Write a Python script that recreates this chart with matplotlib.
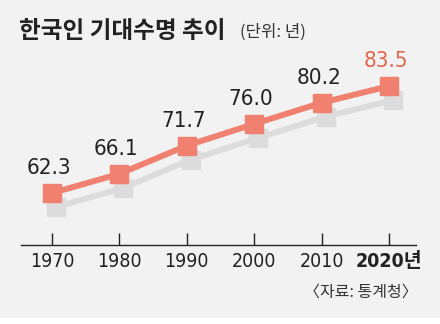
import matplotlib
matplotlib.use('Agg')
import matplotlib.pyplot as plt
import matplotlib.transforms as mtransforms
from matplotlib.patches import Rectangle

plt.rcParams['font.family'] = ['Noto Sans CJK KR', 'DejaVu Sans']

# 데이터
years = [1970, 1980, 1990, 2000, 2010, 2020]
life_exp = [62.3, 66.1, 71.7, 76.0, 80.2, 83.5]
tick_labels = ['1970', '1980', '1990', '2000', '2010', '2020년']
title = '한국인 기대수명 추이'
unit = '(단위: 년)'
source = '〈자료: 통계청〉'

line_color = '#f0806f'
hi_color = '#e0664c'
bg = '#f2f2f2'
num_font = ['DejaVu Sans', 'Noto Sans CJK KR']

fig = plt.figure(figsize=(4.4, 3.24), dpi=100, facecolor=bg)
fig.patches.append(Rectangle((0, 0), 1, 6 / 324, transform=fig.transFigure,
                             facecolor='white', edgecolor='none'))

ax = fig.add_axes([21 / 440, 1 - 245 / 324, 395 / 440, 225 / 324])
ax.set_facecolor('none')
ax.set_xlim(1965.4, 2024.0)
ax.set_ylim(52.0, 96.6)

# 그림자
shadow_tr = mtransforms.offset_copy(ax.transData, fig=fig, x=4, y=-14, units='dots')
ax.plot(years, life_exp, color='#dcdcdc', lw=4.3, marker='s', ms=13.5,
        mec='#dcdcdc', mfc='#dcdcdc', transform=shadow_tr, zorder=1)
# 선
ax.plot(years, life_exp, color=line_color, lw=4.3, marker='s', ms=13.5,
        mec=line_color, mfc=line_color, zorder=2)

# 값 라벨
for i, (x, v) in enumerate(zip(years, life_exp)):
    c = hi_color if i == len(years) - 1 else '#222222'
    ax.annotate(f'{v:.1f}', (x, v), xytext=(-3, 25), textcoords='offset pixels',
                ha='center', va='center', fontsize=16, color=c,
                family=num_font, fontstretch='condensed')

# 축
for s in ['top', 'right', 'left']:
    ax.spines[s].set_visible(False)
ax.spines['bottom'].set_color('#222222')
ax.spines['bottom'].set_linewidth(1.0)
ax.set_yticks([])
ax.set_xticks(years)
ax.set_xticklabels(tick_labels)
ax.tick_params(axis='x', direction='in', length=8.5, width=1.0, color='#222222',
               pad=5, labelsize=14, labelcolor='#222222')
for lab in ax.get_xticklabels():
    lab.set_family(num_font)
    lab.set_fontstretch('condensed')
ax.get_xticklabels()[-1].set_fontweight('bold')

# 제목
fig.text(19 / 440, 1 - 31 / 324, title, fontsize=17, fontweight='bold',
         color='#222222', va='center', ha='left')
fig.text(240 / 440, 1 - 32 / 324, unit, fontsize=12, color='#333333',
         va='center', ha='left')
fig.text(418 / 440, 1 - 292 / 324, source, fontsize=11.5, color='#333333',
         va='center', ha='right')

fig.savefig('out.png', dpi=100, facecolor=bg)
